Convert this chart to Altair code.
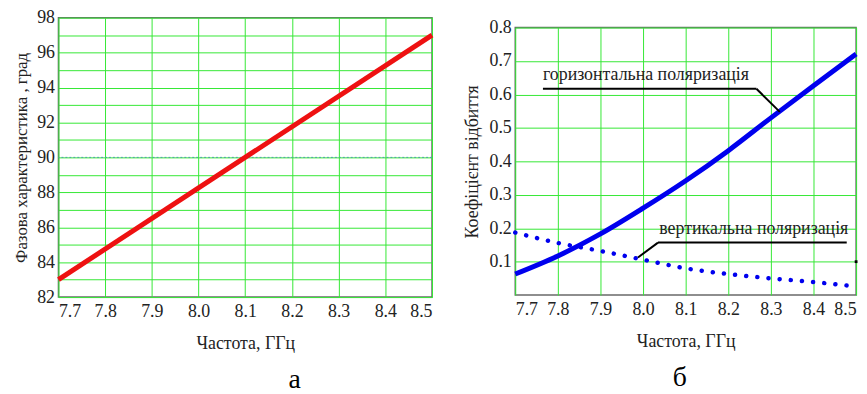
import altair as alt
import pandas as pd

# ---- panel (а): phase response vs frequency ----
freq_a = [7.7, 8.5]
phase_deg = [83.0, 97.0]
phase_ref = [90.0]
phase_ticks = list(range(82, 99))

# ---- panel (б): reflection coefficient vs frequency ----
freq_b = [7.7, 7.8, 7.9, 8.0, 8.1, 8.2, 8.3, 8.4, 8.5]
refl_horizontal = [0.063, 0.117, 0.183, 0.260, 0.342, 0.432, 0.530, 0.626, 0.721]
refl_vertical = [0.187, 0.156, 0.132, 0.106, 0.080, 0.063, 0.050, 0.039, 0.026]
refl_ticks = [0.1, 0.2, 0.3, 0.4, 0.5, 0.6, 0.7, 0.8]

freq_ticks = [7.7, 7.8, 7.9, 8.0, 8.1, 8.2, 8.3, 8.4, 8.5]

# annotation labels and their leader lines
label_text = ["горизонтальна поляризація", "вертикальна поляризація"]
label_x = [7.765, 8.038]
label_y = [0.643, 0.184]
leader_x = [7.765, 8.266, 8.035, 8.035]
leader_x2 = [8.266, 8.321, 8.478, 7.988]
leader_y = [0.617, 0.617, 0.157, 0.157]
leader_y2 = [0.617, 0.548, 0.157, 0.1125]
edge_mark_x = [8.5]
edge_mark_y = [0.1]

FONT = "'Liberation Serif', 'Times New Roman', Times, serif"
GRID = "#35e835"
TEXT = "#222222"

PLOT_A_W, PLOT_A_H = 377, 282
PLOT_B_W, PLOT_B_H = 344, 270

common_axis = dict(
    ticks=False, domain=False, grid=True, gridColor=GRID, gridWidth=1,
    labelFont=FONT, labelColor=TEXT, labelOverlap=False,
    titleFont=FONT, titleFontWeight="normal", titleColor=TEXT,
)

freq_axis = alt.Axis(
    values=freq_ticks, format=".1f", title="Частота, ГГц",
    labelFontSize=18, labelPadding=6, titleFontSize=18, titlePadding=14,
    **common_axis,
)
freq_scale = alt.Scale(domain=[7.7, 8.5], nice=False, zero=False)

phase_axis = alt.Axis(
    values=phase_ticks,
    labelExpr="datum.value % 2 == 0 ? datum.label : ''",
    title="Фазова характеристика , град",
    labelFontSize=18, labelPadding=4, titleFontSize=17, titlePadding=6,
    **common_axis,
)
phase_scale = alt.Scale(domain=[82, 98], nice=False, zero=False)

refl_axis = alt.Axis(
    values=refl_ticks, format=".1f", title="Коефіцієнт відбиття",
    labelFontSize=18, labelPadding=4, titleFontSize=18, titlePadding=8,
    **common_axis,
)
refl_scale = alt.Scale(domain=[0, 0.8], nice=False, zero=False)


def fx(field):
    return alt.X(f"{field}:Q", scale=freq_scale, axis=freq_axis)


def fy_phase(field):
    return alt.Y(f"{field}:Q", scale=phase_scale, axis=phase_axis)


def fy_refl(field):
    return alt.Y(f"{field}:Q", scale=refl_scale, axis=refl_axis)


# ---------------- panel (а) ----------------
df_a = pd.DataFrame({"freq": freq_a, "phase": phase_deg})
df_ref = pd.DataFrame({"level": phase_ref})

ref_line = alt.Chart(df_ref).mark_rule(
    color="#4f9fa8", strokeWidth=1, strokeDash=[2, 2]
).encode(y=fy_phase("level"))

phase_line = alt.Chart(df_a).mark_line(color="#ee1111", strokeWidth=5).encode(
    x=fx("freq"), y=fy_phase("phase")
)

panel_a = alt.layer(ref_line, phase_line).properties(
    width=PLOT_A_W, height=PLOT_A_H,
    title=alt.TitleParams(
        "а", orient="bottom", font=FONT, fontSize=28, fontWeight="normal",
        color="#000000", offset=14, dx=50,
    ),
)

# ---------------- panel (б) ----------------
df_b = pd.DataFrame({
    "freq": freq_b,
    "horizontal": refl_horizontal,
    "vertical": refl_vertical,
})
df_lbl = pd.DataFrame({"x": label_x, "y": label_y, "text": label_text})
df_lead = pd.DataFrame({"x": leader_x, "x2": leader_x2, "y": leader_y, "y2": leader_y2})
df_edge = pd.DataFrame({"x": edge_mark_x, "y": edge_mark_y})

horiz_line = alt.Chart(df_b).mark_line(
    color="#0000ee", strokeWidth=5, interpolate="monotone"
).encode(x=fx("freq"), y=fy_refl("horizontal"))

vert_line = alt.Chart(df_b).mark_line(
    color="#0000ee", strokeWidth=4.5, interpolate="monotone",
    strokeDash=[0.1, 11.2], strokeCap="round",
).encode(x=fx("freq"), y=fy_refl("vertical"))

leaders = alt.Chart(df_lead).mark_rule(color="#000000", strokeWidth=2).encode(
    x=fx("x"), x2="x2:Q", y=fy_refl("y"), y2="y2:Q"
)

labels = alt.Chart(df_lbl).mark_text(
    align="left", baseline="alphabetic", font=FONT, fontSize=18, color=TEXT
).encode(x=fx("x"), y=fy_refl("y"), text="text:N")

edge_mark = alt.Chart(df_edge).mark_point(
    shape="square", filled=True, color="#000000", size=8, opacity=1
).encode(x=fx("x"), y=fy_refl("y"))

panel_b = alt.layer(horiz_line, vert_line, leaders, labels, edge_mark).properties(
    width=PLOT_B_W, height=PLOT_B_H,
    title=alt.TitleParams(
        "б", orient="bottom", font=FONT, fontSize=28, fontWeight="normal",
        color="#000000", offset=14, dx=-6,
    ),
)

# empty strip that lowers panel (б) relative to panel (а)
spacer = alt.Chart(pd.DataFrame({"v": [0]})).mark_point(opacity=0).encode(
    x=alt.X("v:Q", axis=None), y=alt.Y("v:Q", axis=None)
).properties(width=PLOT_B_W, height=10, view=alt.ViewBackground(stroke="transparent"))

right_col = alt.vconcat(spacer, panel_b, spacing=0, bounds="flush")

chart = alt.hconcat(panel_a, right_col, spacing=84, bounds="flush").properties(
    padding={"left": 12, "top": 6, "right": 0, "bottom": 0},
    background="#ffffff",
).configure_view(stroke="#6a6a6a", strokeWidth=1.5)

chart.save("out.html", embed_options={"renderer": "svg", "actions": False})
